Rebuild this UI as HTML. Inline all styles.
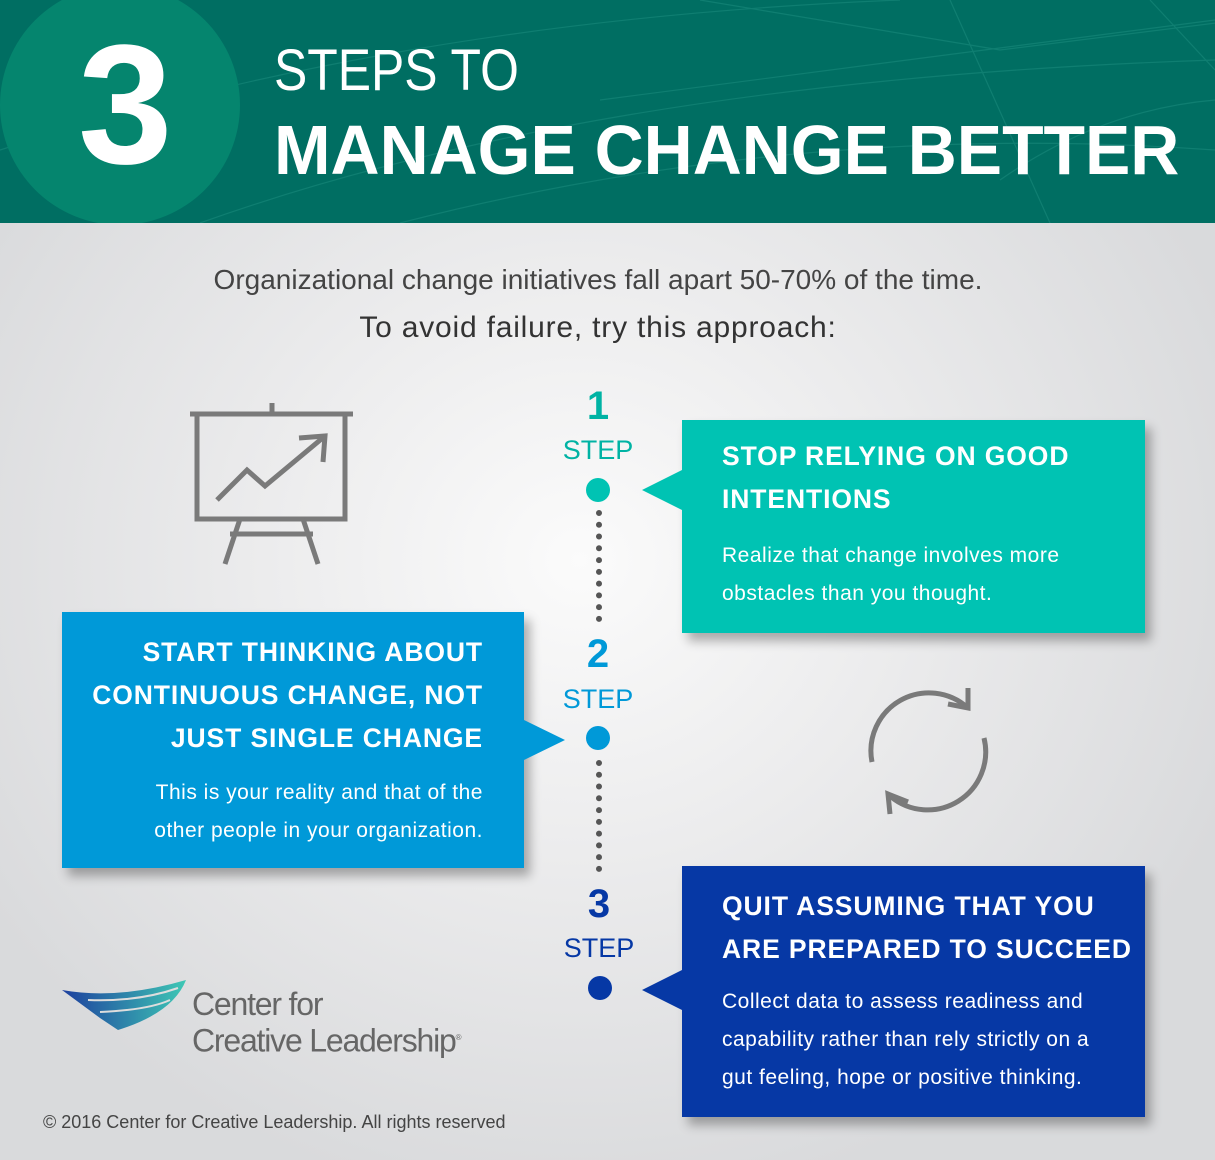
<!DOCTYPE html>
<html><head><meta charset="utf-8"><style>
*{margin:0;padding:0;box-sizing:border-box}
body{width:1215px;height:1160px;position:relative;overflow:hidden;font-family:"Liberation Sans","DejaVu Sans",sans-serif;background:radial-gradient(ellipse 700px 650px at 580px 560px,#fbfbfb 0%,#ececed 45%,#d9dadc 100%)}
.hdr{position:absolute;left:0;top:0;width:1215px;height:223px;background:#006e62;overflow:hidden}
.circ{position:absolute;left:0;top:-15px;width:240px;height:240px;border-radius:50%;background:#05856e}
.t{position:absolute;color:#fff;white-space:nowrap}
.box{position:absolute;color:#fff;box-shadow:6px 8px 10px rgba(0,0,0,.3)}
.box h3{font-size:26.5px;font-weight:bold;letter-spacing:0.9px;line-height:43px;white-space:nowrap}
.box p{font-size:21px;letter-spacing:0.5px;line-height:38px;margin-top:18px;white-space:nowrap}
.tri{position:absolute;width:0;height:0;border-top:20px solid transparent;border-bottom:20px solid transparent}
.num{position:absolute;width:100px;text-align:center;font-weight:bold}
.dot{position:absolute;width:24px;height:24px;border-radius:50%}
.dl{position:absolute;width:6px;border-left:6px dotted #555;}
</style></head><body>
<div class="hdr">
<svg width="1215" height="223" style="position:absolute;left:0;top:0" fill="none" stroke="#1a8a7c" stroke-width="1.2" opacity=".6">
<path d="M0 150 Q400 20 900 0"/><path d="M200 223 Q600 80 1215 60"/><path d="M400 223 Q800 120 1215 150"/><path d="M700 0 L1000 50 L1400 0"/><path d="M950 0 L1050 223"/><path d="M1150 0 L1215 70"/><path d="M600 100 Q900 60 1215 20"/><path d="M1000 180 Q1100 110 1215 100"/>
</svg>
<div class="circ"></div>
<div class="t" style="left:78px;top:20px;font-size:170px;font-weight:bold;line-height:170px">3</div>
<div class="t" style="left:274px;top:38px;font-size:58px;line-height:66px;transform:scaleX(.86);transform-origin:left">STEPS TO</div>
<div class="t" style="left:274px;top:110px;font-size:70px;font-weight:bold;line-height:80px;transform:scaleX(.97);transform-origin:left">MANAGE CHANGE BETTER</div>
</div>
<div class="t" style="left:0;width:1196px;text-align:center;top:264px;font-size:28px;color:#444">Organizational change initiatives fall apart 50-70% of the time.</div>
<div class="t" style="left:0;width:1196px;text-align:center;top:311px;font-size:30px;letter-spacing:0.8px;color:#333">To avoid failure, try this approach:</div>

<svg width="180" height="180" style="position:absolute;left:185px;top:400px" fill="none" stroke="#7a7a7a" stroke-width="5">
<line x1="5" y1="14" x2="168" y2="14"/><line x1="87" y1="3" x2="87" y2="14"/>
<rect x="12" y="14" width="148" height="105"/><line x1="55" y1="119" x2="40" y2="164"/><line x1="118" y1="119" x2="133" y2="164"/><line x1="45" y1="134" x2="128" y2="134"/>
<polyline points="32,100 62,70 80,86 140,36"/><polyline points="114,38 140,36 138,62"/>
</svg>
<svg width="140" height="140" style="position:absolute;left:860px;top:680px" fill="none" stroke="#7a7a7a" stroke-width="5">
<path d="M12 82 A58 58 0 0 1 108 28"/><polyline points="88,24 108,28 108,8"/>
<path d="M124 58 A58 58 0 0 1 30 116"/><polyline points="48,122 28,114 30,134"/>
</svg>

<div class="num" style="left:548px;top:384px;font-size:40px;color:#00b3a4">1</div>
<div class="num" style="left:548px;top:435px;font-size:27px;color:#00b3a4;font-weight:normal">STEP</div>
<div class="dot" style="left:586px;top:478px;background:#00c3b3"></div>
<div class="dl" style="left:596px;top:510px;height:112px"></div>
<div class="num" style="left:548px;top:632px;font-size:40px;color:#0099d8">2</div>
<div class="num" style="left:548px;top:684px;font-size:27px;color:#0099d8;font-weight:normal">STEP</div>
<div class="dot" style="left:586px;top:726px;background:#0099d8"></div>
<div class="dl" style="left:596px;top:760px;height:112px"></div>
<div class="num" style="left:549px;top:882px;font-size:40px;color:#0638a5">3</div>
<div class="num" style="left:549px;top:933px;font-size:27px;color:#0638a5;font-weight:normal">STEP</div>
<div class="dot" style="left:588px;top:976px;background:#0638a5"></div>

<div class="box" style="left:682px;top:420px;width:463px;height:213px;background:#00c3b3;padding:15px 10px 0 40px">
<h3>STOP RELYING ON GOOD<br>INTENTIONS</h3><p style="margin-top:16px">Realize that change involves more<br>obstacles than you thought.</p></div>
<div class="tri" style="left:642px;top:470px;border-right:40px solid #00c3b3"></div>

<div class="box" style="left:62px;top:612px;width:462px;height:256px;background:#0099d8;padding:19px 41px 0 10px;text-align:right">
<h3>START THINKING ABOUT<br>CONTINUOUS CHANGE, NOT<br>JUST SINGLE CHANGE</h3><p style="margin-top:14px">This is your reality and that of the<br>other people in your organization.</p></div>
<div class="tri" style="left:524px;top:720px;border-left:41px solid #0099d8"></div>

<div class="box" style="left:682px;top:866px;width:463px;height:251px;background:#0638a5;padding:19px 5px 0 40px">
<h3>QUIT ASSUMING THAT YOU<br>ARE PREPARED TO SUCCEED</h3><p style="margin-top:12px">Collect data to assess readiness and<br>capability rather than rely strictly on a<br>gut feeling, hope or positive thinking.</p></div>
<div class="tri" style="left:642px;top:970px;border-right:40px solid #0638a5"></div>

<svg width="135" height="70" style="position:absolute;left:58px;top:978px">
<defs><linearGradient id="g" x1="0" x2="1"><stop offset="0" stop-color="#1d3f9e"/><stop offset="1" stop-color="#3ec8b5"/></linearGradient></defs>
<path d="M4 12 Q60 22 128 2 Q115 35 60 52 L42 40 Z" fill="url(#g)"/>
<path d="M30 22 Q80 24 120 10 M42 34 Q90 32 112 22" stroke="#ddd" stroke-width="2" fill="none"/>
</svg>
<div style="position:absolute;left:192px;top:988px;font-size:32px;line-height:33px;color:#666;letter-spacing:-1.2px">Center for<br>Creative Leadership<sup style="font-size:8px">®</sup></div>
<div style="position:absolute;left:43px;top:1112px;font-size:18px;color:#444">© 2016 Center for Creative Leadership. All rights reserved</div>
</body></html>
